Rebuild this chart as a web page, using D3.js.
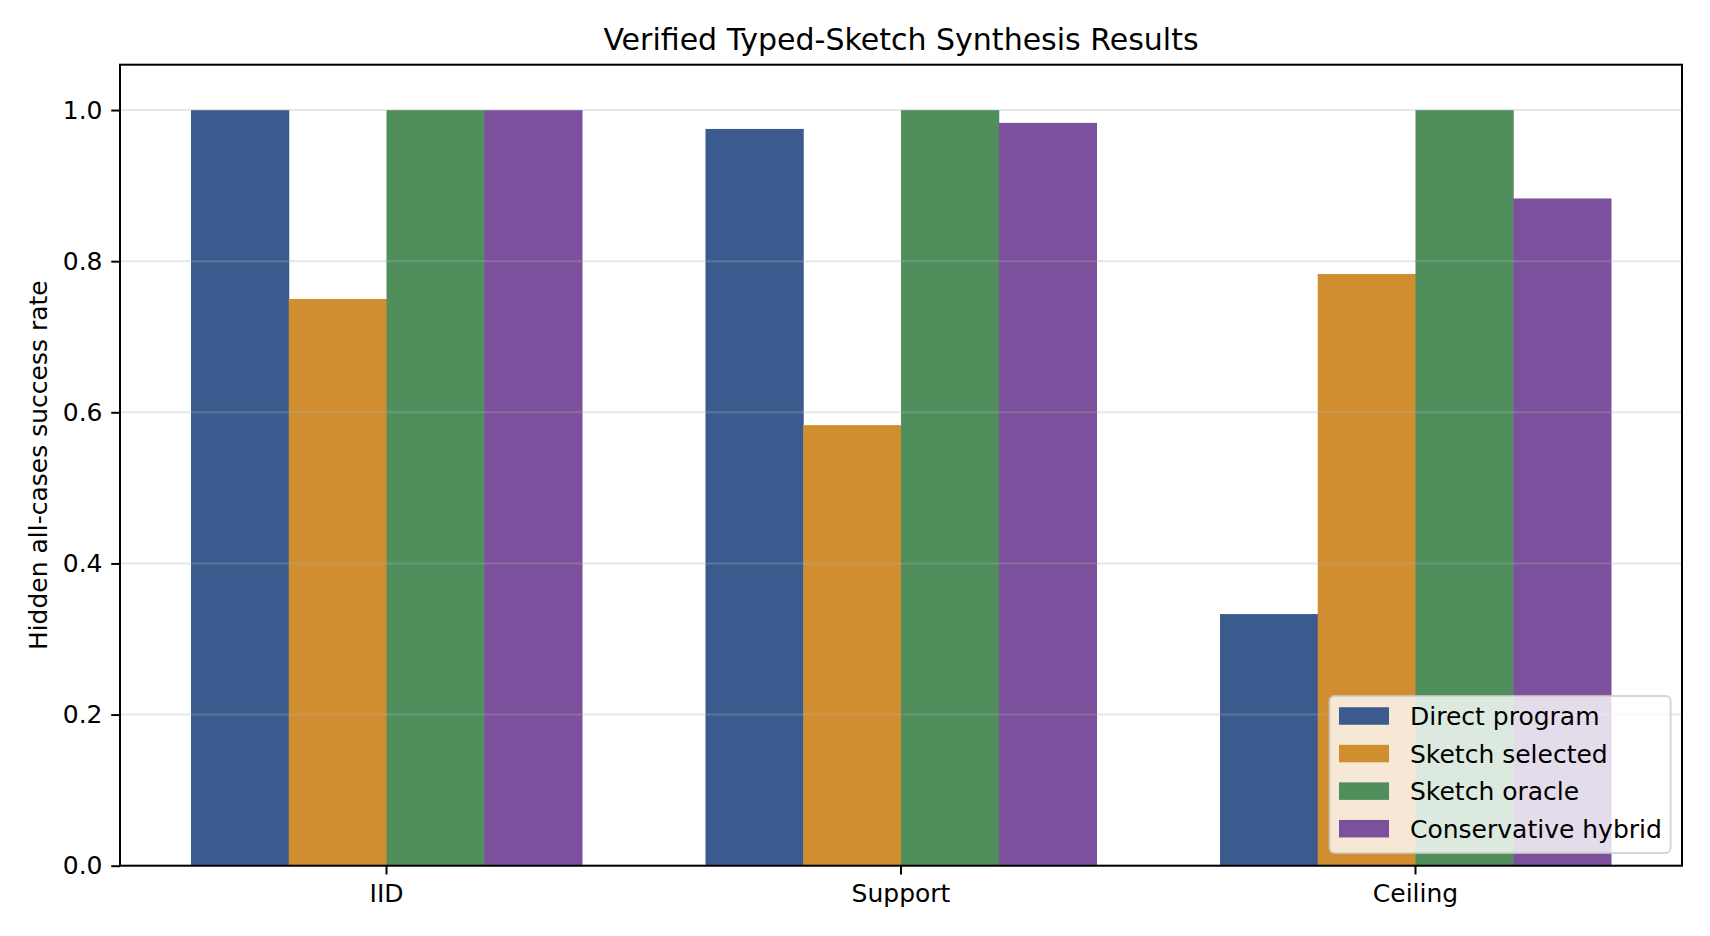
<!DOCTYPE html>
<meta charset="utf-8">
<script src="https://d3js.org/d3.v7.min.js"></script>
<style>
  body { margin: 0; background: #fff; }
  text { font-family: "DejaVu Sans", sans-serif; fill: #000; }
</style>
<div id="chart"></div>
<script>
  // data
  var categories = ["IID", "Support", "Ceiling"];
  var seriesNames = ["Direct program", "Sketch selected", "Sketch oracle", "Conservative hybrid"];
  var directProgram = [1.0, 0.975, 0.333];
  var sketchSelected = [0.75, 0.583, 0.783];
  var sketchOracle = [1.0, 1.0, 1.0];
  var conservativeHybrid = [1.0, 0.983, 0.883];
  var colors = ["#3b5b8f", "#d08e30", "#508f5c", "#7b509c"];
  var yTicks = [0.0, 0.2, 0.4, 0.6, 0.8, 1.0];

  var seriesValues = [directProgram, sketchSelected, sketchOracle, conservativeHybrid];

  var W = 1710, H = 936;
  var margin = { top: 64.7, right: 28, bottom: 70.3, left: 120 };
  var width = W - margin.left - margin.right,
    height = H - margin.top - margin.bottom;

  var fs = 25,      // tick / label / legend font (10pt)
    tick = 8.75,    // tick length and pad (3.5pt)
    lw = 2;         // spine / tick width (0.8pt)

  var svg = d3.select("#chart").append("svg")
    .attr("width", W)
    .attr("height", H);

  var g = svg.append("g")
    .attr("transform", "translate(" + margin.left + "," + margin.top + ")");

  // Scales
  var x0 = d3.scaleBand()
    .domain(categories)
    .range([0, width])
    .paddingInner(0.24)
    .paddingOuter(0.138);

  var x1 = d3.scaleBand()
    .domain(seriesNames)
    .range([0, x0.bandwidth()])
    .padding(0);

  var y = d3.scaleLinear()
    .domain([0, 1.06])
    .range([height, 0]);

  // Bars
  var groups = g.selectAll(".group")
    .data(categories)
    .enter().append("g")
    .attr("transform", function (d) { return "translate(" + x0(d) + ",0)"; });

  groups.selectAll("rect")
    .data(function (c, ci) {
      return seriesNames.map(function (s, si) { return { s: s, si: si, v: seriesValues[si][ci] }; });
    })
    .enter().append("rect")
    .attr("x", function (d) { return x1(d.s); })
    .attr("width", x1.bandwidth() + 0.5)
    .attr("y", function (d) { return y(d.v); })
    .attr("height", function (d) { return height - y(d.v); })
    .attr("fill", function (d) { return colors[d.si]; });

  // Grid (drawn over bars, translucent like the original)
  g.append("g")
    .selectAll("line")
    .data(yTicks)
    .enter().append("line")
    .attr("x1", 0)
    .attr("x2", width)
    .attr("y1", function (d) { return y(d); })
    .attr("y2", function (d) { return y(d); })
    .attr("stroke", "#b0b0b0")
    .attr("stroke-opacity", 0.3)
    .attr("stroke-width", lw);

  // Axes
  var yAxis = g.append("g")
    .call(d3.axisLeft(y).tickValues(yTicks).tickFormat(d3.format(".1f")).tickSizeInner(tick).tickSizeOuter(0).tickPadding(tick));
  yAxis.select(".domain").remove();
  yAxis.selectAll("line").attr("stroke-width", lw);
  yAxis.selectAll("text").style("font-size", fs + "px").attr("font-family", "DejaVu Sans");

  var xAxis = g.append("g")
    .attr("transform", "translate(0," + height + ")")
    .call(d3.axisBottom(x0).tickSizeInner(tick).tickSizeOuter(0).tickPadding(tick));
  xAxis.select(".domain").remove();
  xAxis.selectAll("line").attr("stroke-width", lw);
  xAxis.selectAll("text").style("font-size", fs + "px").attr("font-family", "DejaVu Sans")
    .attr("y", 36.5).attr("dy", 0);

  // Frame
  g.append("rect")
    .attr("width", width)
    .attr("height", height)
    .attr("fill", "none")
    .attr("stroke", "#000")
    .attr("stroke-width", lw);

  // Labels
  svg.append("text")
    .attr("text-anchor", "middle")
    .style("font-size", fs + "px")
    .attr("transform", "translate(47," + (margin.top + height / 2) + ")rotate(-90)")
    .text("Hidden all-cases success rate");

  svg.append("text")
    .attr("x", margin.left + width / 2)
    .attr("y", 50)
    .attr("text-anchor", "middle")
    .style("font-size", "30px")
    .text("Verified Typed-Sketch Synthesis Results");

  // Legend
  var lx = 1329.6, ly = 696, lwid = 341, lh = 157;
  var legend = svg.append("g");
  legend.append("rect")
    .attr("x", lx).attr("y", ly)
    .attr("width", lwid).attr("height", lh)
    .attr("rx", 5)
    .attr("fill", "#fff").attr("fill-opacity", 0.8)
    .attr("stroke", "#cccccc").attr("stroke-opacity", 0.8)
    .attr("stroke-width", lw);

  var rowY = d3.scalePoint()
    .domain(seriesNames)
    .range([ly + 20, ly + 132.7]);

  var item = legend.selectAll(".item")
    .data(seriesNames)
    .enter().append("g")
    .attr("transform", function (d) { return "translate(" + (lx + 9.4) + "," + rowY(d) + ")"; });

  item.append("rect")
    .attr("x", 0).attr("y", -8.75)
    .attr("width", 50).attr("height", 17.5)
    .attr("fill", function (d, i) { return colors[i]; });

  item.append("text")
    .attr("x", 71)
    .attr("dy", "0.36em")
    .style("font-size", fs + "px")
    .text(function (d) { return d; });
</script>
